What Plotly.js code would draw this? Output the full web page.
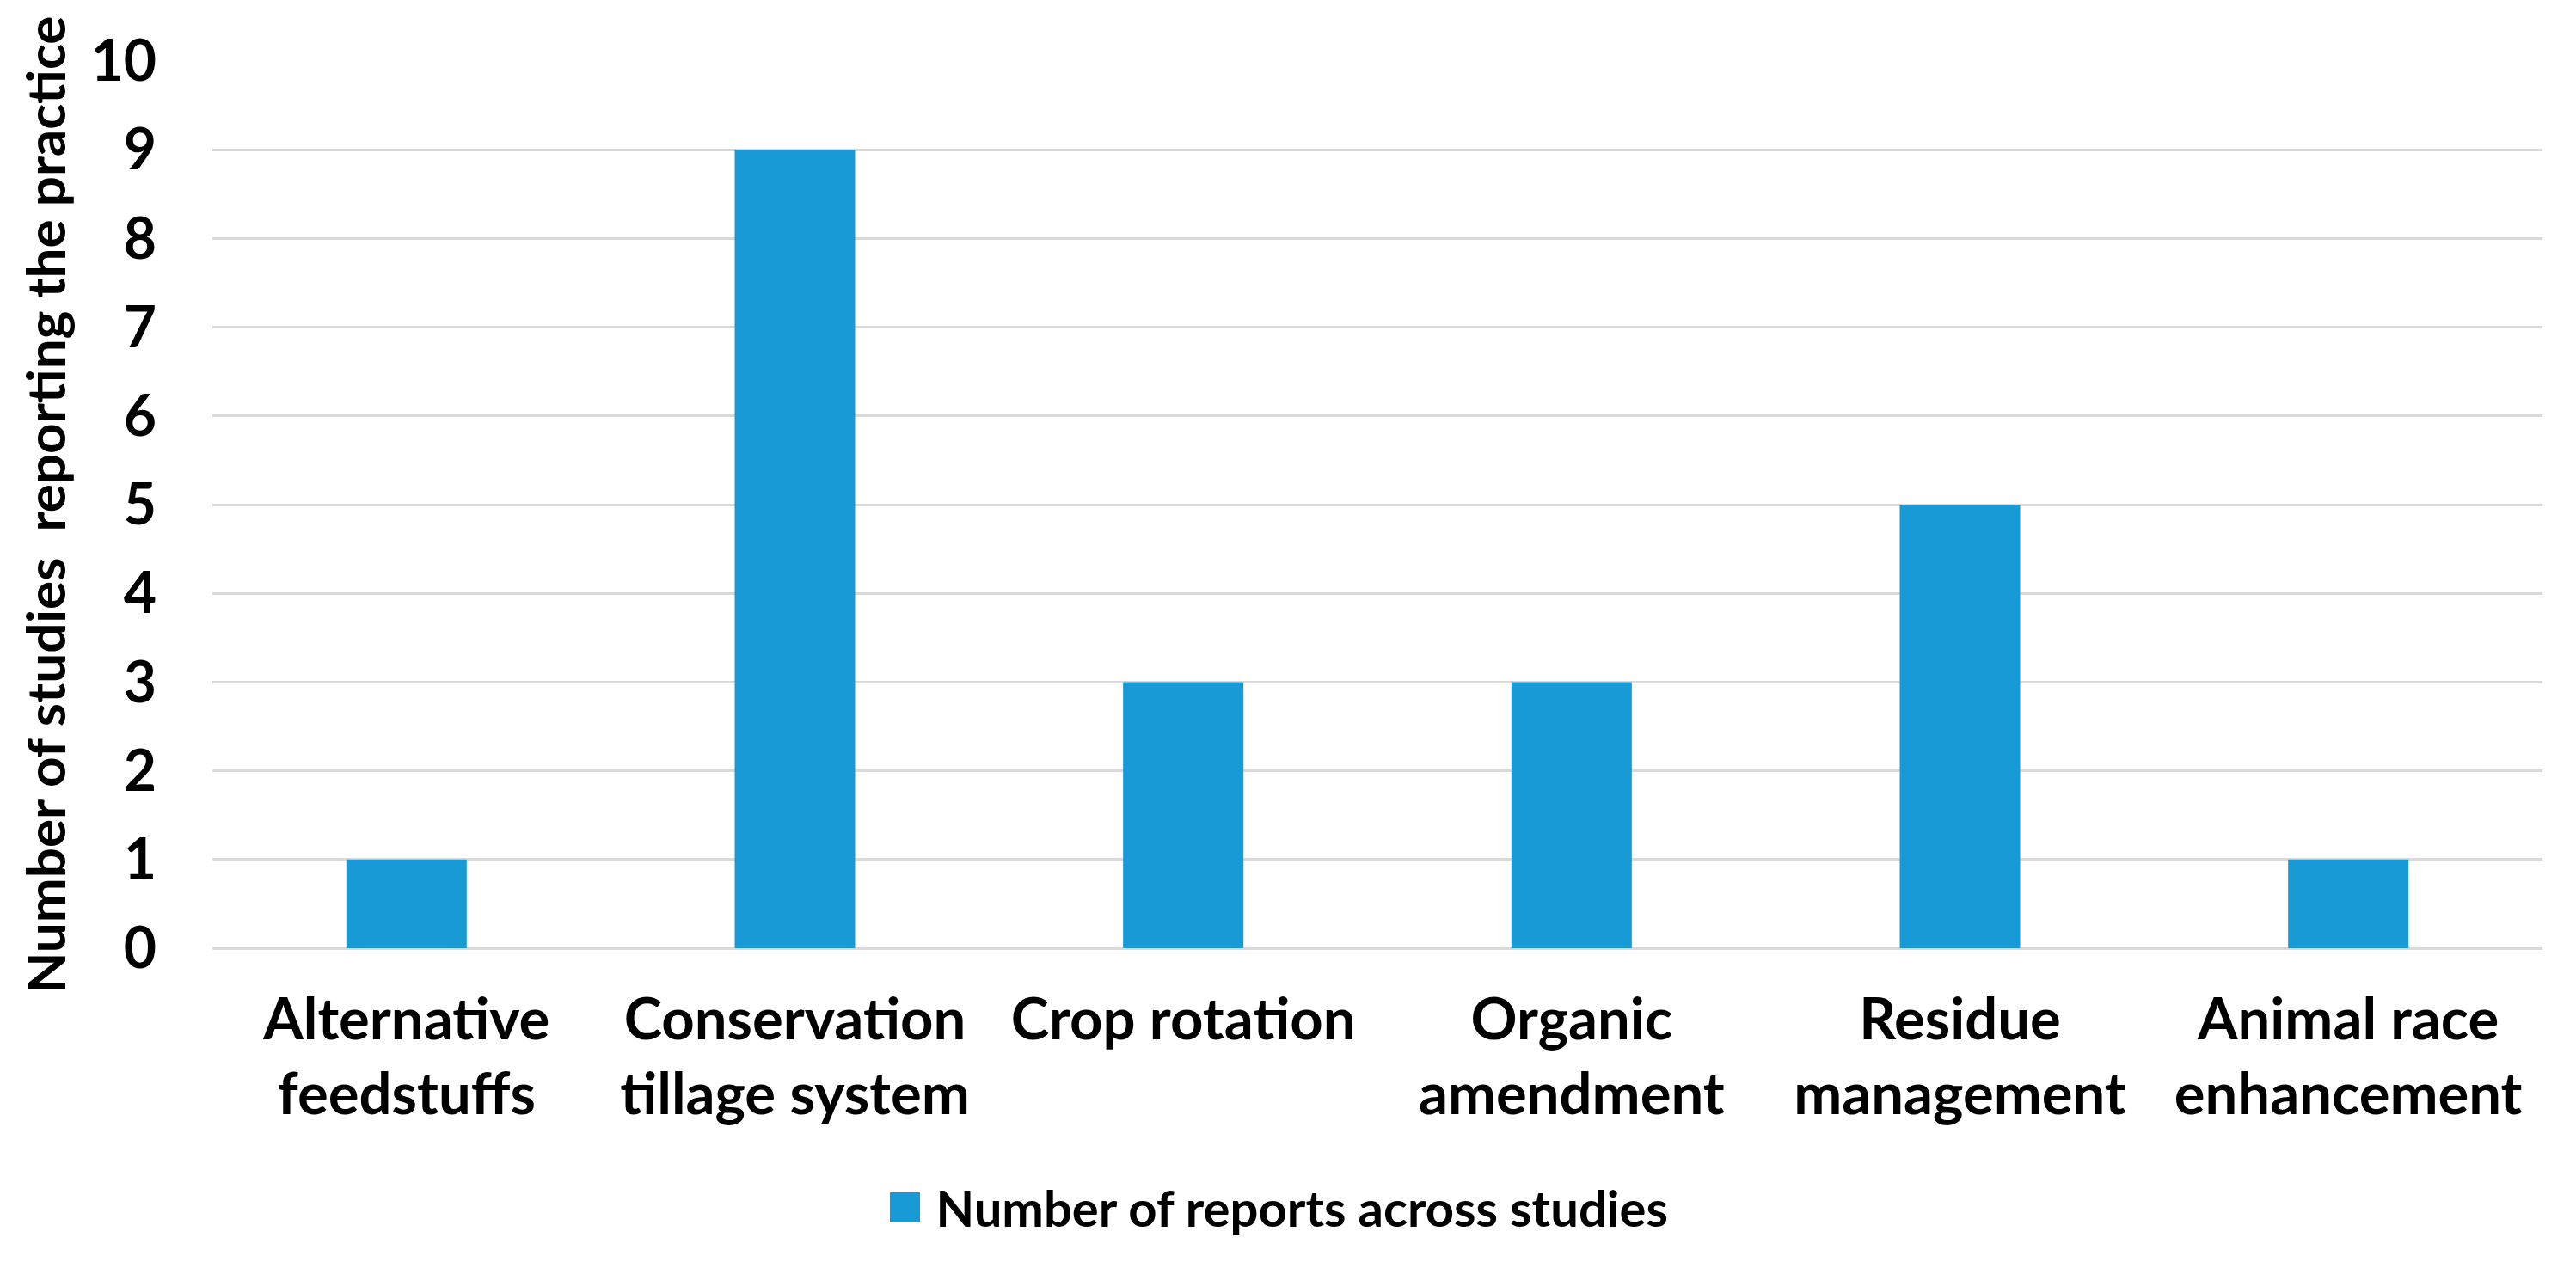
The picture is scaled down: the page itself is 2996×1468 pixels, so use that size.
<!DOCTYPE html>
<html>
<head>
<meta charset="utf-8">
<script src="https://cdn.plot.ly/plotly-3.0.1.min.js"></script>
<style>html,body{margin:0;padding:0;background:#fff;}#chart{width:2996px;height:1468px;}</style>
</head>
<body>
<div id="chart"></div>
<script>
const categories = [
  "Alternative<br>feedstuffs",
  "Conservation<br>tillage system",
  "Crop rotation",
  "Organic<br>amendment",
  "Residue<br>management",
  "Animal race<br>enhancement"
];
const reports = [1, 9, 3, 3, 5, 1];
const seriesName = "Number of reports across studies";
const yTitle = "Number of studies \u00A0reporting the practice";
const yTicks = [0, 1, 2, 3, 4, 5, 6, 7, 8, 9, 10];

const FONT = "Lato, 'Open Sans', sans-serif";

const trace = {
  type: "bar",
  x: categories,
  y: reports,
  name: seriesName,
  marker: { color: "#189ad6" },
  width: 0.31,
  showlegend: true
};

const layout = {
  width: 2996,
  height: 1468,
  paper_bgcolor: "#ffffff",
  plot_bgcolor: "#ffffff",
  margin: { l: 247, r: 39, t: 71, b: 365 },
  font: { family: FONT, color: "#000000", weight: "bold" },
  showlegend: true,
  legend: {
    orientation: "h",
    xref: "container",
    yref: "container",
    x: 0.497,
    xanchor: "center",
    y: 0.043,
    yanchor: "middle",
    itemwidth: 46,
    font: { family: FONT, size: 58, color: "#000000", weight: "bold" }
  },
  xaxis: {
    type: "category",
    tickfont: { family: FONT, size: 67, color: "#000000", weight: "bold" },
    showgrid: false,
    showline: false,
    zeroline: false,
    ticks: "",
    ticklabelstandoff: 38,
    automargin: false
  },
  yaxis: {
    range: [0, 10],
    tickvals: yTicks,
    ticktext: yTicks.map(String),
    tickfont: { family: FONT, size: 66, color: "#000000", weight: "bold" },
    showgrid: true,
    gridcolor: "#d9d9d9",
    gridwidth: 3,
    zeroline: true,
    zerolinecolor: "#d9d9d9",
    zerolinewidth: 3,
    showline: false,
    ticks: "",
    ticklabelstandoff: 64,
    automargin: false,
    title: {
      text: yTitle,
      font: { family: FONT, size: 62, color: "#000000", weight: "bold" },
      standoff: 8
    }
  },
  bargap: 0.7
};

Plotly.newPlot("chart", [trace], layout, { displayModeBar: false, staticPlot: true }).then(function (gd) {
  // enlarge the legend swatch to match the reference's larger square
  gd.querySelectorAll(".legend .legendpoints path").forEach(function (p) {
    p.setAttribute("d", "M17.5,17.5H-17.5V-17.5H17.5Z");
    p.setAttribute("transform", "translate(20,0)");
  });
});
</script>
</body>
</html>
